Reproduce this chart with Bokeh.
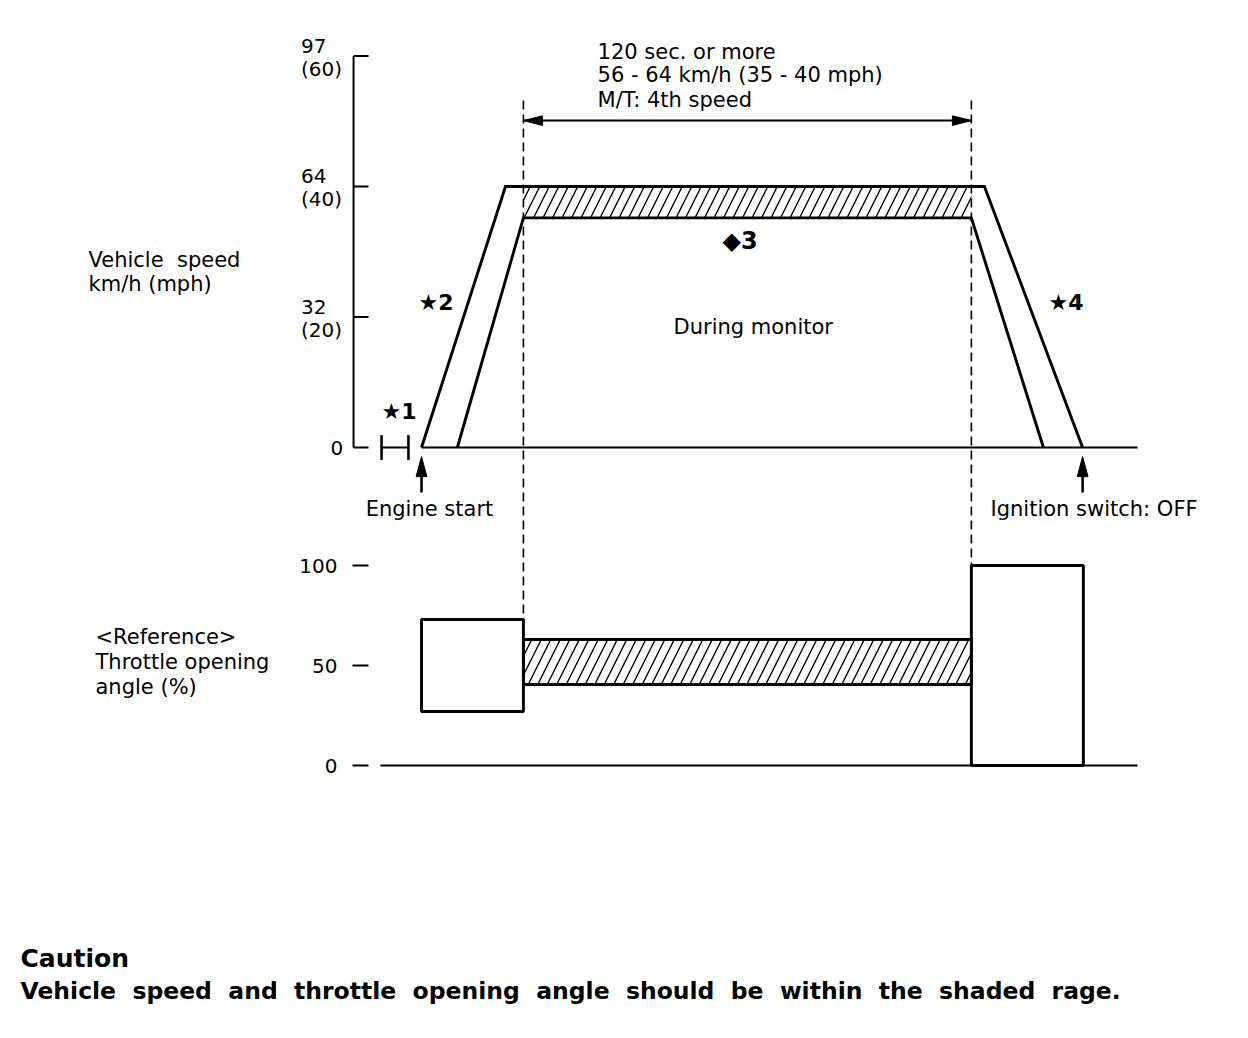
from bokeh.plotting import figure
from bokeh.models import Range1d
from bokeh.core.properties import value
from bokeh.embed import file_html
from bokeh.resources import INLINE

# ---------------- data (time in s, t = 0 at engine start) ----------------
idle_t = [-10.7, -3.5]                 # *1 idle period
outer_t = [0.0, 22.5, 150.8, 177.1]    # outer speed envelope
outer_mph = [0, 40, 40, 0]
inner_t = [9.6, 27.3, 147.3, 166.6]    # inner speed envelope
inner_mph = [0, 35.2, 35.2, 0]
monitor_t = [27.3, 147.3]              # 120 s monitoring window
band_mph = [35.2, 40]                  # shaded speed range (56-64 km/h)
ignition_off_t = 177.1
engine_start_t = 0.0
axis_end_t = 191.8

speed_ticks_mph = [0, 20, 40, 60]
speed_tick_kmh = ["0", "32", "64", "97"]
speed_tick_mph = ["", "(20)", "(40)", "(60)"]

throttle_ticks = [0, 50, 100]
throttle_tick_labels = ["0", "50", "100"]
accel_box_t = [0.0, 27.3]
accel_box_pct = [27, 73]
band_pct = [40.5, 63]                  # shaded throttle range
decel_box_t = [147.3, 177.3]
decel_box_pct = [0, 100]

# ---------------- figure ----------------
W, H = 1232, 1020
X0, X1 = -112.78, 217.25
S0, S1 = -87.82, 68.51
T0, T1 = -127.5, 382.5
ppt = W / (X1 - X0)
pps = H / (S1 - S0)
ppthr = H / (T1 - T0)

p = figure(width=W, height=H, x_range=Range1d(X0, X1), y_range=Range1d(S0, S1),
           output_backend="svg", toolbar_location=None,
           x_axis_location=None, y_axis_location=None, min_border=0)
p.extra_y_ranges = {"thr": Range1d(T0, T1)}
p.outline_line_color = None
p.background_fill_color = "white"
p.border_fill_color = "white"
p.grid.visible = False

FONT = value("DejaVu Sans")
LW = 2.9
NB = "\u00a0"
HATCH = dict(hatch_pattern="/", hatch_color="black", hatch_scale=19, hatch_weight=1.4)


def thr_to_mph(v):
    f = (v - T0) / (T1 - T0)
    return S0 + f * (S1 - S0)


def txt(x, y, s, size="21px", bold=False, align="left", yr=None):
    kw = {"y_range_name": yr} if yr else {}
    p.text(x=[x], y=[y], text=[s], text_font=FONT, text_font_size=value(size),
           text_font_style="bold" if bold else "normal", text_align=align,
           text_baseline="middle", text_color="black", **kw)


def head(tx, ty, dx, dy, yscale, length=19, half=4.8, yr=None):
    bx = tx - dx * length / ppt
    by = ty - dy * length / yscale
    qx, qy = -dy, dx
    xs = [tx, bx + qx * half / ppt, bx - qx * half / ppt]
    ys = [ty, by + qy * half / yscale, by - qy * half / yscale]
    kw = {"y_range_name": yr} if yr else {}
    p.patch(xs, ys, fill_color="black", line_color="black", line_width=1, **kw)


# ---------------- speed chart ----------------
ax_t = -18.2
tick_len = 4.0
p.line([ax_t, ax_t], [0, speed_ticks_mph[-1]], line_color="black", line_width=2)
p.segment(x0=[ax_t] * len(speed_ticks_mph), y0=speed_ticks_mph,
          x1=[ax_t + tick_len] * len(speed_ticks_mph), y1=speed_ticks_mph,
          line_color="black", line_width=2)
for v, a, b in zip(speed_ticks_mph, speed_tick_kmh, speed_tick_mph):
    if b:
        txt(-32.3, v + 10.5 / pps, a, size="20px")
        txt(-32.3, v - 12.5 / pps, b, size="20px")
    else:
        txt(-21.0, v, a, size="20px", align="right")

# baseline
p.line([engine_start_t, axis_end_t], [0, 0], line_color="black", line_width=2.2)
# idle bracket
p.line(idle_t, [0, 0], line_color="black", line_width=2)
p.segment(x0=idle_t, y0=[-1.9, -1.9], x1=idle_t, y1=[1.9, 1.9], line_color="black", line_width=2.6)

# hatched speed band
p.quad(left=[monitor_t[0]], right=[monitor_t[1]], bottom=[band_mph[0]], top=[band_mph[1]],
       fill_color=None, line_color=None, **HATCH)
# envelopes
p.line(outer_t, outer_mph, line_color="black", line_width=LW, line_join="miter")
p.line(inner_t, inner_mph, line_color="black", line_width=LW, line_join="miter")

# dashed monitor bounds
top_dash = 53.2
p.segment(x0=monitor_t, y0=[top_dash, top_dash], x1=monitor_t,
          y1=[thr_to_mph(accel_box_pct[1]), thr_to_mph(decel_box_pct[1])],
          line_color="black", line_width=1.6, line_dash="9 5")

# double arrow (120 s)
arr_y = 50.1
p.line(monitor_t, [arr_y, arr_y], line_color="black", line_width=2)
head(monitor_t[0], arr_y, -1, 0, pps)
head(monitor_t[1], arr_y, 1, 0, pps)

# event arrows
tail_y, tip_y = -6.9, -1.4
for t in (engine_start_t, ignition_off_t):
    p.line([t, t], [tail_y, tip_y - 15 / pps], line_color="black", line_width=2.6)
    head(t, tip_y, 0, 1, pps, length=20, half=5.4)

# speed chart texts
txt(47.15, 60.69, "120 sec. or more")
txt(47.15, 57.16, "56 - 64 km/h (35 - 40 mph)")
txt(47.15, 53.33, "M/T: 4th speed")
txt(80.63, 31.72, "\u25c63", size="24px", bold=True)
txt(67.51, 18.54, "During monitor")
txt(-0.80, 22.22, "\u26052", size="22px", bold=True)
txt(167.96, 22.22, "\u26054", size="22px", bold=True)
txt(-10.72, 5.52, "\u26051", size="22px", bold=True)
txt(2.14, -9.50, "Engine start", align="center")
txt(152.42, -9.50, "Ignition switch: OFF")
txt(-89.2, 28.81, "Vehicle" + NB + " speed")
txt(-89.2, 25.13, "km/h (mph)")

# ---------------- throttle chart ----------------
p.segment(x0=[ax_t - 0.3] * 3, y0=throttle_ticks, x1=[ax_t + tick_len] * 3, y1=throttle_ticks,
          line_color="black", line_width=2, y_range_name="thr")
for v, s in zip(throttle_ticks, throttle_tick_labels):
    txt(-22.5, v, s, size="20px", align="right", yr="thr")
p.line([-11.0, axis_end_t], [0, 0], line_color="black", line_width=2.2, y_range_name="thr")

p.quad(left=[monitor_t[0]], right=[monitor_t[1]], bottom=[band_pct[0]], top=[band_pct[1]],
       fill_color=None, line_color="black", line_width=LW, y_range_name="thr", **HATCH)
p.quad(left=[accel_box_t[0]], right=[accel_box_t[1]], bottom=[accel_box_pct[0]],
       top=[accel_box_pct[1]], fill_color=None, line_color="black", line_width=LW,
       y_range_name="thr")
p.quad(left=[decel_box_t[0]], right=[decel_box_t[1]], bottom=[decel_box_pct[0]],
       top=[decel_box_pct[1]], fill_color=None, line_color="black", line_width=LW,
       y_range_name="thr")

txt(-87.33, 64.5, "<Reference>", yr="thr")
txt(-87.33, 52.0, "Throttle opening", yr="thr")
txt(-87.33, 39.5, "angle (%)", yr="thr")

# caution
gap = NB + " "
caution = gap.join("Vehicle speed and throttle opening angle should be within the shaded rage.".split(" "))
txt(-107.42, -96.5, "Caution", size="25px", bold=True, yr="thr")
txt(-107.42, -112.5, caution, size="23.5px", bold=True, yr="thr")

open("out.html", "w").write(file_html(p, INLINE))
